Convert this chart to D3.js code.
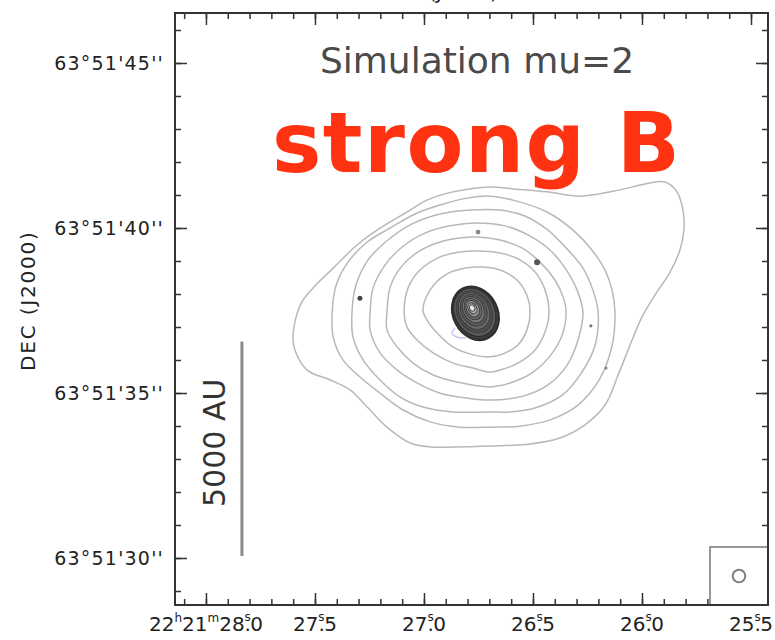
<!DOCTYPE html>
<html>
<head>
<meta charset="utf-8">
<script src="https://cdn.jsdelivr.net/npm/d3@7/dist/d3.min.js"></script>
<style>
  html, body { margin: 0; padding: 0; background: #fff; }
  svg { display: block; }
</style>
</head>
<body>
<svg id="chart" width="775" height="640"></svg>
<script>
// ---- map extent (RA seconds of 22h21m, Dec arcsec of 63°51') ----
const raExtent = [28.142, 25.422];
const decExtent = [46.515, 28.576];

// ---- tick labels ----
const raMajor = [28.0, 27.5, 27.0, 26.5, 26.0, 25.5];
const raPrefix = ["22|h|21|m", "", "", "", "", ""];
const decMajor = [45, 40, 35, 30];
const decLabels = ["63°51'45''", "63°51'40''", "63°51'35''", "63°51'30''"];

// ---- source position (map centre of the envelope) ----
const sourceRA = 26.752;   // s
const sourceDec = 37.515;  // arcsec

// ---- envelope contours: [east offset, north offset] in arcsec ----
const contour1 = [[1.67,0],[1.45,0.61],[1.0,1.06],[0.39,1.27],[-0.15,1.30],[-0.67,1.21],[-1.18,0.91],[-1.48,0.45],[-1.58,-0.06],[-1.48,-0.61],[-1.21,-1.06],[-0.76,-1.33],[-0.36,-1.42],[0.15,-1.36],[0.76,-1.12],[1.24,-0.70],[1.55,-0.30]];
const contour2 = [[2.24,-0.06],[2.12,0.67],[1.76,1.21],[1.15,1.61],[0.55,1.76],[0.03,1.79],[-0.67,1.73],[-1.27,1.52],[-1.73,1.15],[-2.03,0.61],[-2.15,-0.06],[-2.03,-0.67],[-1.73,-1.21],[-1.21,-1.61],[-0.67,-1.82],[-0.36,-1.88],[0.15,-1.76],[0.76,-1.61],[1.36,-1.30],[1.85,-0.91],[2.15,-0.52]];
const contour3 = [[2.76,-0.06],[2.67,0.67],[2.36,1.27],[1.82,1.76],[1.15,2.06],[0.55,2.18],[0.03,2.21],[-0.67,2.12],[-1.33,1.88],[-1.88,1.45],[-2.33,0.91],[-2.58,0.39],[-2.67,-0.06],[-2.55,-0.76],[-2.21,-1.36],[-1.67,-1.88],[-0.97,-2.21],[-0.36,-2.33],[0.64,-2.18],[1.36,-1.97],[1.97,-1.61],[2.45,-1.12],[2.76,-0.61]];
const contour4 = [[3.27,-0.06],[3.18,0.67],[2.82,1.36],[2.30,1.91],[1.61,2.33],[0.85,2.55],[0.03,2.64],[-0.82,2.55],[-1.58,2.24],[-2.18,1.82],[-2.64,1.27],[-3.0,0.61],[-3.18,-0.06],[-3.03,-0.91],[-2.70,-1.67],[-2.12,-2.27],[-1.36,-2.61],[-0.36,-2.73],[0.33,-2.67],[1.15,-2.52],[1.85,-2.21],[2.45,-1.82],[2.97,-1.30],[3.27,-0.61]];
const contour5 = [[3.82,-0.06],[3.70,0.76],[3.33,1.52],[2.73,2.12],[2.0,2.61],[1.15,2.91],[0.24,3.03],[-0.67,3.03],[-1.42,2.85],[-2.12,2.42],[-2.67,1.88],[-3.18,1.27],[-3.48,0.61],[-3.64,-0.06],[-3.55,-1.06],[-3.15,-1.88],[-2.55,-2.58],[-1.73,-2.97],[-0.97,-3.09],[-0.36,-3.09],[0.76,-3.09],[1.67,-2.94],[2.36,-2.64],[2.97,-2.12],[3.48,-1.52],[3.79,-0.82]];
const contour6 = [[4.42,-0.06],[4.30,0.76],[3.94,1.45],[3.36,2.06],[2.67,2.48],[1.91,2.91],[1.15,3.18],[0.33,3.39],[-0.36,3.45],[-1.06,3.33],[-2.09,2.97],[-2.88,2.42],[-3.45,1.82],[-3.85,1.21],[-4.06,0.61],[-4.15,-0.06],[-4.06,-1.09],[-3.67,-2.12],[-3.03,-2.88],[-2.18,-3.33],[-1.27,-3.52],[-0.36,-3.55],[0.55,-3.55],[1.45,-3.39],[2.27,-3.03],[2.97,-2.52],[3.58,-2.03],[4.09,-1.52],[4.39,-0.82]];
const contour7 = [[5.61,-0.76],[5.39,0.15],[5.0,0.67],[4.39,1.27],[3.67,1.97],[2.97,2.48],[2.15,2.97],[1.55,3.33],[0.76,3.58],[-0.36,3.73],[-1.06,3.67],[-2.09,3.58],[-3.09,3.45],[-4.30,3.64],[-5.06,3.82],[-5.67,3.88],[-6.03,3.58],[-6.21,3.03],[-6.24,2.42],[-6.12,1.82],[-5.82,1.15],[-5.36,0.45],[-5.0,-0.15],[-4.67,-0.91],[-4.27,-1.91],[-3.85,-2.88],[-3.24,-3.48],[-2.48,-3.88],[-1.58,-4.06],[-0.36,-4.12],[0.70,-4.15],[1.45,-4.15],[2.06,-4.03],[2.76,-3.55],[3.36,-2.94],[3.88,-2.42],[4.48,-2.12],[5.18,-1.82],[5.55,-1.21]];
const envelopeContours = [contour7, contour6, contour5, contour4, contour3, contour2, contour1];

// ---- compact core contours: centre offset [e, n], semi-axes [major, minor] in arcsec ----
const coreCentres = [[0.08,-0.10],[0.10,-0.07],[0.11,-0.05],[0.12,-0.03],[0.13,-0.01],[0.14,0.01],[0.15,0.03],[0.16,0.04],[0.17,0.05],[0.18,0.06]];
const coreAxes = [[0.85,0.68],[0.76,0.60],[0.67,0.52],[0.58,0.45],[0.50,0.38],[0.42,0.31],[0.34,0.25],[0.26,0.19],[0.18,0.13],[0.10,0.08]];
const coreShades = ["#3a3a3a","#5a5a5a","#4d4d4d","#686868","#5a5a5a","#7a7a7a","#6a6a6a","#9a9a9a","#b0b0b0","#e6e6e6"];
const corePA = -27; // degrees, drawn rotation

// ---- faint negative contour ----
const negContour = [[0.70,-0.55],[0.79,-0.70],[0.64,-0.82],[0.36,-0.85]];

// ---- compact sources ----
const knotsE = [0.0, -1.79, 3.58, -3.42, -3.88];
const knotsN = [2.36, 1.45, 0.36, -0.48, -1.76];
const knotsSize = [2.4, 3.0, 2.5, 1.6, 1.6];
const knotsShade = ["#888", "#555", "#444", "#777", "#888"];

// ---- beam and scale bar ----
const beamArcsec = 0.38;
const scaleBarArcsec = 6.5;
const scaleBarLabel = "5000 AU";
const scaleBarRA = 27.835;
const scaleBarDec = 30.06;

const titleText = "Simulation mu=2";
const overlayText = "strong B";

// ---- layout ----
const frame = { left: 175, right: 768, top: 13, bottom: 605 };
const svg = d3.select("#chart");

const x = d3.scaleLinear().domain(raExtent).range([frame.left, frame.right]);
const y = d3.scaleLinear().domain(decExtent).range([frame.top, frame.bottom]);

const cosDec = Math.cos((63 + 51 / 60 + sourceDec / 3600) * Math.PI / 180);
const arcsecPerSec = 15 * cosDec;
const px = e => x(sourceRA + e / arcsecPerSec);
const py = n => y(sourceDec + n);
const pxPerArcsec = Math.abs(y(0) - y(1));

// ---- envelope contours ----
const line = d3.line()
  .x(d => px(d[0]))
  .y(d => py(d[1]))
  .curve(d3.curveCatmullRomClosed.alpha(0.5));

svg.append("g")
  .selectAll("path")
  .data(envelopeContours)
  .join("path")
  .attr("d", line)
  .attr("fill", "none")
  .attr("stroke", "#b8b8b8")
  .attr("stroke-width", 1.5);

// ---- faint negative contour ----
svg.append("path")
  .datum(negContour)
  .attr("d", d3.line().x(d => px(d[0])).y(d => py(d[1])).curve(d3.curveCatmullRom))
  .attr("fill", "none")
  .attr("stroke", "#c0c8f5")
  .attr("stroke-width", 1.5);

// ---- compact core ----
const core = svg.append("g");
coreCentres.forEach((c, i) => {
  core.append("ellipse")
    .attr("transform", `translate(${px(c[0])},${py(c[1])}) rotate(${corePA})`)
    .attr("rx", coreAxes[i][1] * pxPerArcsec)
    .attr("ry", coreAxes[i][0] * pxPerArcsec)
    .attr("fill", coreShades[i])
    .attr("stroke", i < 2 ? "#2a2a2a" : "#3a3a3a")
    .attr("stroke-width", i === 0 ? 1.6 : 0.9);
});

// ---- knots ----
svg.append("g")
  .selectAll("circle")
  .data(knotsE.map((e, i) => ({ e, n: knotsN[i], r: knotsSize[i], c: knotsShade[i] })))
  .join("circle")
  .attr("cx", d => px(d.e))
  .attr("cy", d => py(d.n))
  .attr("r", d => d.r)
  .attr("fill", d => d.c);

// ---- scale bar ----
const sbX = x(scaleBarRA);
const sbY0 = y(scaleBarDec), sbY1 = y(scaleBarDec + scaleBarArcsec);
svg.append("line")
  .attr("x1", sbX).attr("x2", sbX)
  .attr("y1", sbY0).attr("y2", sbY1)
  .attr("stroke", "#8a8a8a")
  .attr("stroke-width", 3);
svg.append("text")
  .attr("transform", `translate(${sbX - 17},${(sbY0 + sbY1) / 2 - 6}) rotate(-90)`)
  .attr("text-anchor", "middle")
  .attr("font-family", "DejaVu Sans")
  .attr("font-size", 30)
  .attr("fill", "#333")
  .text(scaleBarLabel);

// ---- axes: inward ticks on all four sides ----
const raMinor = d3.range(281, 254, -1).map(v => v / 10);
const decMinor = d3.range(29, 47);
const tickStyle = g => {
  g.select(".domain").remove();
  g.selectAll("line").attr("stroke", "#333").attr("stroke-width", 1.5);
};
const addAxis = (axis, tx, ty) => svg.append("g")
  .attr("transform", `translate(${tx},${ty})`)
  .call(axis)
  .call(tickStyle);

addAxis(d3.axisBottom(x).tickValues(raMinor).tickSize(-6).tickFormat(""), 0, frame.bottom);
addAxis(d3.axisBottom(x).tickValues(raMajor).tickSize(-12).tickFormat(""), 0, frame.bottom);
addAxis(d3.axisTop(x).tickValues(raMinor).tickSize(-6).tickFormat(""), 0, frame.top);
addAxis(d3.axisTop(x).tickValues(raMajor).tickSize(-12).tickFormat(""), 0, frame.top);
addAxis(d3.axisLeft(y).tickValues(decMinor).tickSize(-6).tickFormat(""), frame.left, 0);
addAxis(d3.axisLeft(y).tickValues(decMajor).tickSize(-12).tickFormat(""), frame.left, 0);
addAxis(d3.axisRight(y).tickValues(decMinor).tickSize(-6).tickFormat(""), frame.right, 0);
addAxis(d3.axisRight(y).tickValues(decMajor).tickSize(-12).tickFormat(""), frame.right, 0);

// ---- beam box (covers ticks underneath) ----
const beamBox = 58;
svg.append("rect")
  .attr("x", frame.right - beamBox).attr("y", frame.bottom - beamBox)
  .attr("width", beamBox).attr("height", beamBox)
  .attr("fill", "#fff")
  .attr("stroke", "#777")
  .attr("stroke-width", 1.5);
svg.append("circle")
  .attr("cx", frame.right - beamBox / 2)
  .attr("cy", frame.bottom - beamBox / 2)
  .attr("r", beamArcsec / 2 * pxPerArcsec)
  .attr("fill", "none")
  .attr("stroke", "#808080")
  .attr("stroke-width", 2);

// ---- frame ----
svg.append("rect")
  .attr("x", frame.left).attr("y", frame.top)
  .attr("width", frame.right - frame.left).attr("height", frame.bottom - frame.top)
  .attr("fill", "none")
  .attr("stroke", "#333")
  .attr("stroke-width", 2);

// ---- tick labels ----
const labelFont = "DejaVu Sans";
svg.append("g")
  .selectAll("text")
  .data(decMajor)
  .join("text")
  .attr("x", frame.left - 11)
  .attr("y", d => y(d))
  .attr("dy", "0.36em")
  .attr("text-anchor", "end")
  .attr("font-family", labelFont)
  .attr("font-size", 19)
  .attr("letter-spacing", 1.2)
  .attr("fill", "#222")
  .text((d, i) => decLabels[i]);

raMajor.forEach((v, i) => {
  const t = svg.append("text")
    .attr("x", x(v))
    .attr("y", 631)
    .attr("text-anchor", "middle")
    .attr("font-family", labelFont)
    .attr("font-size", 20)
    .attr("fill", "#222");
  const s = v.toFixed(1).split(".");
  let lift = 0;
  if (raPrefix[i]) {
    const p = raPrefix[i].split("|");
    t.append("tspan").text(p[0]);
    t.append("tspan").attr("font-size", 12).attr("dy", -9).text(p[1]);
    t.append("tspan").attr("dy", 9).text(p[2]);
    t.append("tspan").attr("font-size", 12).attr("dy", -9).text(p[3]);
    lift = 9;
  }
  t.append("tspan").attr("dy", lift).text(s[0] + ".");
  t.append("tspan").attr("font-size", 12).attr("dx", -6.5).attr("dy", -10).text("s");
  t.append("tspan").attr("dy", 10).attr("dx", -0.5).text(s[1]);
});

// ---- axis title ----
svg.append("text")
  .attr("transform", `translate(35,${y(37.8)}) rotate(-90)`)
  .attr("text-anchor", "middle")
  .attr("font-family", labelFont)
  .attr("font-size", 20)
  .attr("letter-spacing", 1.8)
  .attr("fill", "#222")
  .text("DEC (J2000)");

// clipped title of the panel above
svg.append("text")
  .attr("x", x(26.82))
  .attr("y", -1)
  .attr("text-anchor", "middle")
  .attr("font-family", labelFont)
  .attr("font-size", 19)
  .attr("fill", "#222")
  .text("(J2000)");

// ---- titles ----
svg.append("text")
  .attr("x", 477)
  .attr("y", 73)
  .attr("text-anchor", "middle")
  .attr("font-family", "DejaVu Sans")
  .attr("font-size", 36)
  .attr("fill", "#4a4a4a")
  .text(titleText);

svg.append("text")
  .attr("x", 476)
  .attr("y", 172)
  .attr("text-anchor", "middle")
  .attr("font-family", "DejaVu Sans")
  .attr("font-weight", 700)
  .attr("font-size", 83)
  .attr("fill", "#ff3311")
  .attr("textLength", 408)
  .attr("lengthAdjust", "spacing")
  .text(overlayText);
</script>
</body>
</html>
